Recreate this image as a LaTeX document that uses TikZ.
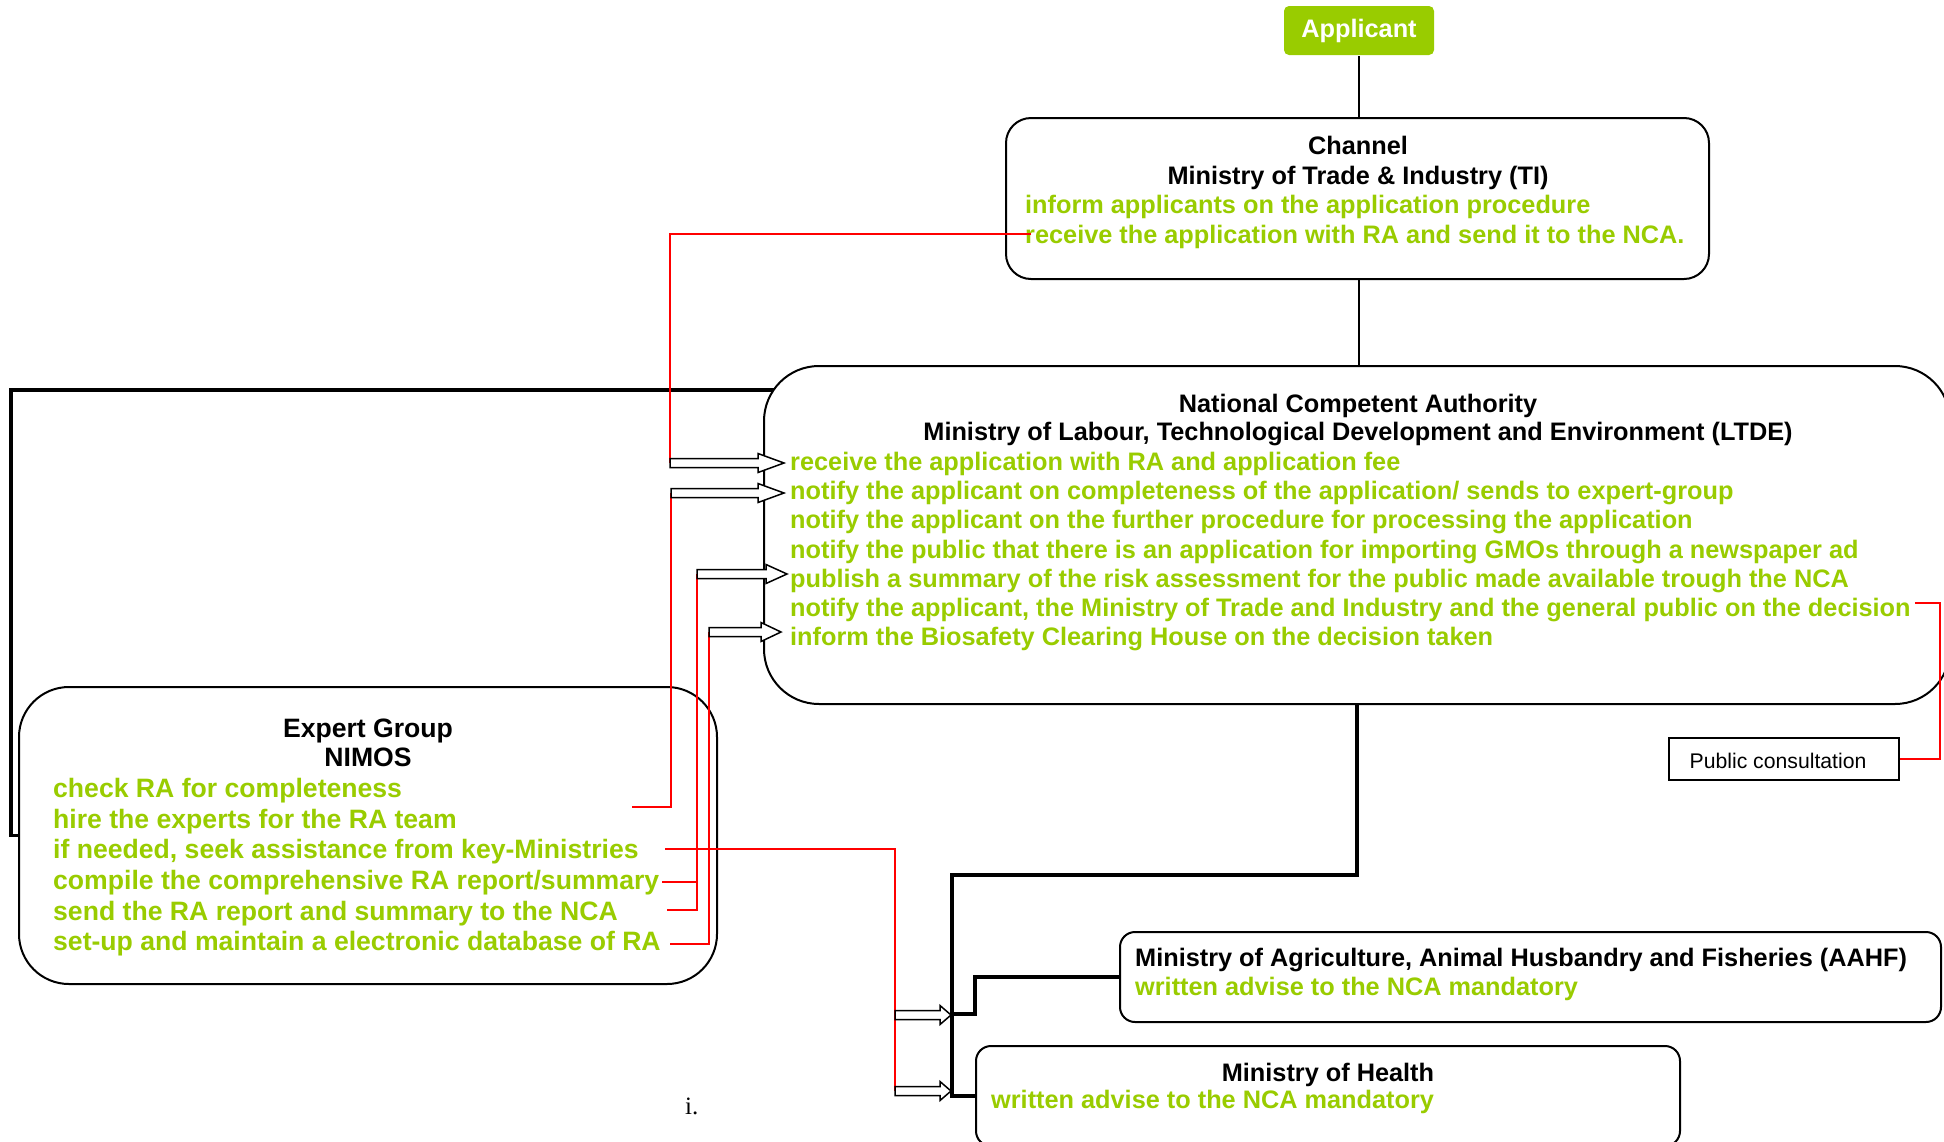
\documentclass[tikz,border=0pt]{standalone}
\usepackage{fontspec}
\setmainfont{Liberation Sans}
\newfontfamily\romanfont{Liberation Serif}
\definecolor{leaf}{RGB}{153,204,0}
\tikzset{
  big/.style={font=\fontsize{25.3}{30}\selectfont\bfseries, inner sep=0pt},
  bigger/.style={font=\fontsize{26.6}{32}\selectfont\bfseries, inner sep=0pt},
  title/.style={big, anchor=base},
  item/.style={big, text=leaf, anchor=base west},
  frame/.style={draw, line width=2pt, fill=white, rounded corners=#1},
  link/.style={line width=3.5pt},
  thin link/.style={line width=2pt},
  tie/.style={draw=red, line width=1.5pt},
  pics/hollow/.style 2 args={code={
    \draw[line width=1.5pt, fill=white] (0,-4.5) -- (#1,-4.5) -- (#1,-9.5) -- (#1+#2,0) -- (#1,9.5) -- (#1,4.5) -- (0,4.5) -- cycle;}}
}
\begin{document}
\begin{tikzpicture}[x=1pt,y=1pt,yscale=-1,xscale=1]
\useasboundingbox (0,0) rectangle (1944,1141);
\clip (0,0) rectangle (1944,1141);

%Black links
\coordinate (ncacorner) at (774,390);
\coordinate (fork) at (952,875);
\coordinate (tap) at (952,1014);
\draw[thin link] (1359,56) -- (1359,119);
\draw[thin link] (1359,279) -- (1359,367);
\draw[link] (20,835.5) -- (11,835.5) |- (ncacorner);
\draw[link] (1357,704) |- (fork) |- (977,1096);
\draw[link] (tap) -- ++(23,0) |- (1121,977);

%Shape: Rounded Rect
\node[fill=leaf, rounded corners=5, minimum width=150pt, minimum height=49pt, big, text=white] (app) at (1359,30.5) {Applicant};
\node[frame=25, minimum width=703pt, minimum height=161pt] (chan) at (1357.5,198.5) {};
\node[frame=55, minimum width=1186pt, minimum height=338pt] (nca) at (1357,535) {};
\node[frame=50, minimum width=698pt, minimum height=297pt] (expert) at (368,835.5) {};
\node[frame=15, minimum width=821pt, minimum height=90pt] (aahf) at (1530.5,977) {};
\node[frame=15, minimum width=704pt, minimum height=100pt] (health) at (1328,1096) {};
\node[draw, line width=2pt, minimum width=230pt, minimum height=42pt] (pub) at (1784,759) {};
\node[anchor=base, inner sep=0pt, font=\fontsize{21.2}{25}\selectfont] (pubtxt) at (1778,768.5) {Public consultation};

% Text Node
\node[title] (ch0) at (1358,154) {Channel};
\node[title] (ch1) at (1358,184) {Ministry of Trade \& Industry (TI)};
\node[item] (ch2) at (1025,213) {inform applicants on the application procedure};
\node[item] (ch3) at (1025,243) {receive the application with RA and send it to the NCA.};

% Text Node
\node[title] (nca0) at (1358,412) {National Competent Authority};
\node[title] (nca1) at (1358,440) {Ministry of Labour, Technological Development and Environment (LTDE)};
\node[item] (nca2) at (790,470) {receive the application with RA and application fee};
\node[item] (nca3) at (790,499.5) {notify the applicant on completeness of the application/ sends to expert-group};
\node[item] (nca4) at (790,528.5) {notify the applicant on the further procedure for processing the application};
\node[item] (nca5) at (790,558) {notify the public that there is an application for importing GMOs through a newspaper ad};
\node[item] (nca6) at (790,587) {publish a summary of the risk assessment for the public made available trough the NCA};
\node[item] (nca7) at (790,616) {notify the applicant, the Ministry of Trade and Industry and the general public on the decision};
\node[item] (nca8) at (790,645) {inform the Biosafety Clearing House on the decision taken};

% Text Node
\node[bigger, anchor=base] (eg0) at (368,737) {Expert Group};
\node[bigger, anchor=base] (eg1) at (368,766) {NIMOS};
\node[bigger, text=leaf, anchor=base west] (eg2) at (53,797) {check RA for completeness};
\node[bigger, text=leaf, anchor=base west] (eg3) at (53,828) {hire the experts for the RA team};
\node[bigger, text=leaf, anchor=base west] (eg4) at (53,858.5) {if needed, seek assistance from key-Ministries};
\node[bigger, text=leaf, anchor=base west] (eg5) at (53,889.5) {compile the comprehensive RA report/summary};
\node[bigger, text=leaf, anchor=base west] (eg6) at (53,920) {send the RA report and summary to the NCA};
\node[bigger, text=leaf, anchor=base west] (eg7) at (53,950.5) {set-up and maintain a electronic database of RA};

% Text Node
\node[big, anchor=base west] (ag0) at (1135,966) {Ministry of Agriculture, Animal Husbandry and Fisheries (AAHF)};
\node[item] (ag1) at (1135,995) {written advise to the NCA mandatory};
\node[title] (he0) at (1328,1081) {Ministry of Health};
\node[item] (he1) at (991,1108) {written advise to the NCA mandatory};
\node[anchor=base west, inner sep=0pt, font=\romanfont\fontsize{25}{30}\selectfont] (mark) at (685,1114) {i.};

%Red ties
\coordinate (a1) at (670,463);
\coordinate (a2) at (671,493);
\coordinate (a3) at (697,574);
\coordinate (a4) at (709,632);
\coordinate (a5) at (895,1015);
\coordinate (a6) at (895,1091);
\coordinate (r1) at (1031,234);
\coordinate (e2) at (632,807);
\coordinate (e3) at (665,849);
\coordinate (e4) at (662,882);
\coordinate (e5) at (667,910);
\coordinate (e6) at (670,944);
\coordinate (turn) at (1940,603);
\draw[tie] (r1) -| (a1);
\draw[tie] (e2) -| (a2);
\draw[tie] (e4) -- (e4 -| a3);
\draw[tie] (e5) -| (a3);
\draw[tie] (e6) -| (a4);
\draw[tie] (e3) -| (a6);
\draw[tie] ([xshift=4pt]nca7.base east |- turn) -- (turn) |- (pub.east);

%Hollow arrows
\pic at (a1) {hollow={88}{26}};
\pic at (a2) {hollow={87}{26}};
\pic at (a3) {hollow={69}{21}};
\pic at (a4) {hollow={52}{20}};
\pic at (a5) {hollow={45}{11}};
\pic at (a6) {hollow={45}{11}};

\end{tikzpicture}
\end{document}
